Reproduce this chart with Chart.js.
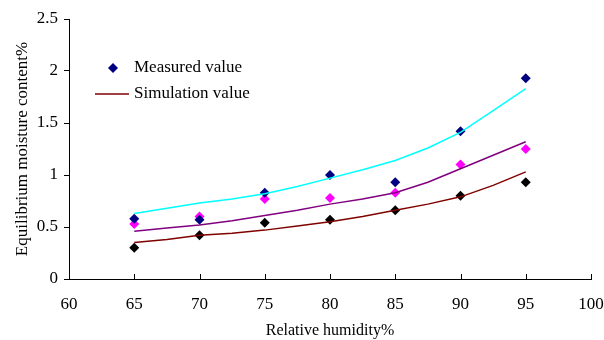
<!DOCTYPE html>
<html>
<head>
<meta charset="utf-8">
<script src="https://cdn.jsdelivr.net/npm/chart.js@4"></script>
<style>
  html, body { margin: 0; padding: 0; background: #fff; }
  #wrap { width: 604px; height: 340px; }
</style>
</head>
<body>
<div id="wrap"><canvas id="meuGrafico"></canvas></div>
<script>
// measured points (relative humidity %)
const rhMeasured = [65, 70, 75, 80, 85, 90, 95]
const measuredA = [0.58, 0.57, 0.83, 1.00, 0.93, 1.42, 1.93]
const measuredB = [0.53, 0.60, 0.77, 0.78, 0.83, 1.10, 1.25]
const measuredC = [0.30, 0.42, 0.54, 0.57, 0.66, 0.80, 0.93]

// simulation curves
const rhSim = [65, 67.5, 70, 72.5, 75, 77.5, 80, 82.5, 85, 87.5, 90, 92.5, 95]
const simA = [0.63, 0.68, 0.73, 0.77, 0.82, 0.89, 0.97, 1.05, 1.14, 1.26, 1.41, 1.62, 1.83]
const simB = [0.46, 0.49, 0.52, 0.56, 0.61, 0.66, 0.72, 0.77, 0.83, 0.93, 1.06, 1.19, 1.32]
const simC = [0.35, 0.38, 0.42, 0.44, 0.47, 0.51, 0.55, 0.60, 0.66, 0.72, 0.79, 0.90, 1.03]

const xTicks = [60, 65, 70, 75, 80, 85, 90, 95, 100]
const yTicks = [0, 0.5, 1, 1.5, 2, 2.5]
const legendLabels = ['Measured value', 'Simulation value']

const serif = '"Liberation Serif", "Times New Roman", serif'

function toPoints(xs, ys) {
    return xs.map((x, i) => ({ x: x, y: ys[i] }))
}

function lineSet(ys, color) {
    return {
        type: 'line',
        data: toPoints(rhSim, ys),
        borderColor: color,
        borderWidth: 1.5,
        pointRadius: 0,
        fill: false,
        tension: 0
    }
}

function pointSet(ys, color) {
    return {
        type: 'scatter',
        data: toPoints(rhMeasured, ys),
        pointStyle: 'rectRot',
        pointRadius: 5,
        pointBackgroundColor: color,
        pointBorderColor: color,
        pointBorderWidth: 0,
        showLine: false
    }
}

// x tick marks point inward, plus the legend drawn inside the plot
const extras = {
    id: 'extras',
    afterDraw(chart) {
        const c = chart.ctx
        const xs = chart.scales.x
        const bottom = chart.chartArea.bottom
        c.save()
        c.strokeStyle = '#000'
        c.lineWidth = 1
        xTicks.forEach(v => {
            const px = Math.round(xs.getPixelForValue(v)) + 0.5
            c.beginPath()
            c.moveTo(px, bottom)
            c.lineTo(px, bottom - 5)
            c.stroke()
        })

        c.font = '17px ' + serif
        c.textBaseline = 'middle'
        // measured
        c.fillStyle = '#000080'
        c.beginPath()
        c.moveTo(113, 63); c.lineTo(118, 68); c.lineTo(113, 73); c.lineTo(108, 68)
        c.closePath()
        c.fill()
        c.fillStyle = '#000'
        c.fillText(legendLabels[0], 134, 68)
        // simulation
        c.strokeStyle = '#800000'
        c.lineWidth = 1.5
        c.beginPath()
        c.moveTo(95, 94); c.lineTo(129, 94)
        c.stroke()
        c.fillText(legendLabels[1], 134, 94)
        c.restore()
    }
}

const ctx = document.getElementById('meuGrafico')

new Chart(ctx, {
    data: {
        datasets: [
            lineSet(simA, '#00ffff'),
            lineSet(simB, '#800080'),
            lineSet(simC, '#800000'),
            pointSet(measuredA, '#000080'),
            pointSet(measuredB, '#ff00ff'),
            pointSet(measuredC, '#000000')
        ]
    },
    options: {
        responsive: true,
        maintainAspectRatio: false,
        animation: false,
        layout: { padding: { top: 19, right: 0, left: 0, bottom: 0 } },
        plugins: {
            legend: { display: false },
            tooltip: { enabled: false }
        },
        scales: {
            x: {
                type: 'linear',
                min: 60,
                max: 100,
                afterBuildTicks: (s) => { s.ticks = xTicks.map(v => ({ value: v })) },
                afterFit: (s) => { s.height = 61; s.paddingRight = 13 },
                border: { color: '#000', width: 1 },
                grid: { display: false, drawTicks: false },
                ticks: {
                    color: '#000',
                    padding: 15,
                    font: { family: serif, size: 17 },
                    maxRotation: 0
                },
                title: {
                    display: true,
                    text: 'Relative humidity%',
                    color: '#000',
                    font: { family: serif, size: 16 },
                    padding: { top: 0, bottom: 0 }
                }
            },
            y: {
                min: 0,
                max: 2.5,
                afterBuildTicks: (s) => { s.ticks = yTicks.map(v => ({ value: v })) },
                afterFit: (s) => { s.width = 69 },
                border: { color: '#000', width: 1 },
                grid: { drawOnChartArea: false, tickLength: 5, color: '#000' },
                ticks: {
                    color: '#000',
                    padding: 6,
                    font: { family: serif, size: 17 },
                    callback: (v) => String(v)
                },
                title: {
                    display: true,
                    text: 'Equilibrium moisture content%',
                    color: '#000',
                    font: { family: serif, size: 17 },
                    padding: { top: 12, bottom: 0 }
                }
            }
        }
    },
    plugins: [extras]
})
</script>
</body>
</html>
